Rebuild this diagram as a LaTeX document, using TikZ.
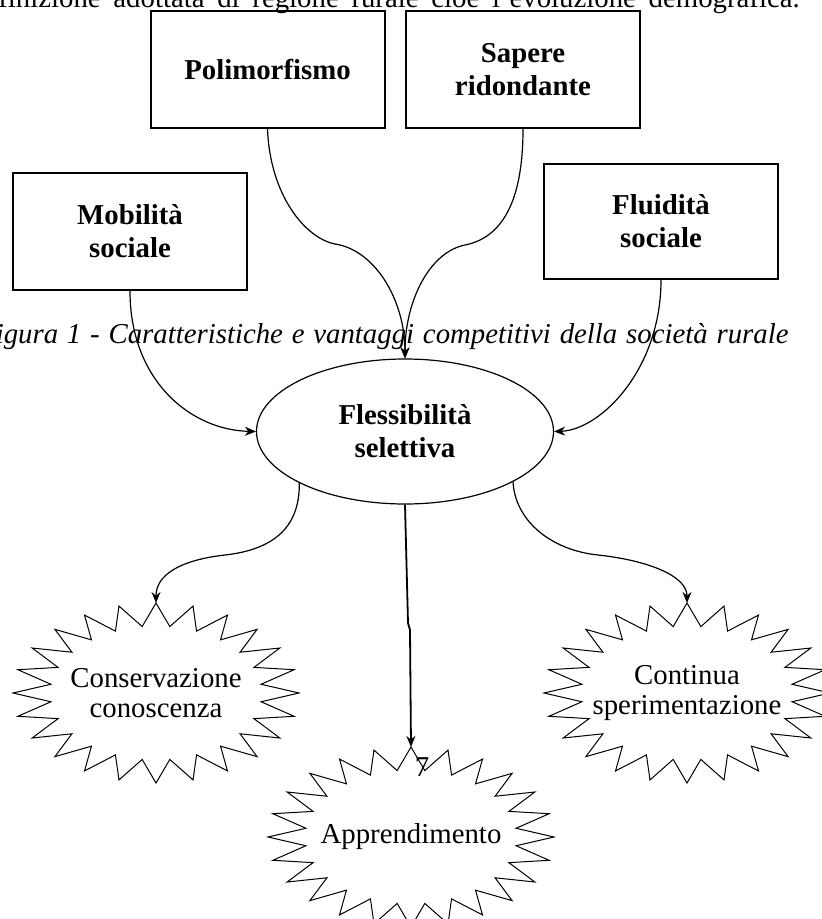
\documentclass[tikz,border=0pt]{standalone}
\usepackage{fontspec}
\setmainfont{Liberation Serif}
\usetikzlibrary{arrows.meta,shapes.geometric}
\begin{document}
\begin{tikzpicture}[x=1pt,y=-1pt,
  box/.style={draw, line width=2pt, rectangle, minimum width=234pt, minimum height=117pt, inner sep=0pt, align=center, font=\fontsize{28.8}{33}\selectfont\bfseries},
  oval/.style={draw, line width=1.2pt, ellipse, minimum width=297pt, minimum height=145pt, inner sep=0pt, align=center, font=\fontsize{28.8}{33}\selectfont\bfseries},
  burst/.style={ellipse, minimum width=286pt, minimum height=180pt, inner sep=0pt, outer sep=0pt, align=center, font=\fontsize{28.8}{30}\selectfont},
  conn/.style={line width=1.2pt, -{Stealth[length=11pt,width=9pt,inset=3.5pt]}},
  starline/.style={line width=1pt, line join=miter},
  txt/.style={font=\fontsize{28.8}{33}\selectfont, inner sep=0pt}
]
\useasboundingbox (0,0) rectangle (822,919);
\fill[white] (0,0) rectangle (822,919);

% header and caption text
\node[txt, anchor=base west] (hdr) at (-29,7) {\spaceskip=12.7pt\relax definizione adottata di regione rurale cioè l’evoluzione demografica.};
\node[txt, anchor=base west, font=\fontsize{28.8}{33}\selectfont\itshape] (cap) at (-22,343) {\spaceskip=8.8pt\relax Figura 1 - Caratteristiche e vantaggi competitivi della società rurale};

% boxes
\node[box] (poli) at (267.5,69.5) {Polimorfismo};
\node[box] (sap) at (523,69.5) {Sapere\\ridondante};
\node[box] (mob) at (130,231.5) {Mobilità\\sociale};
\node[box, minimum height=115pt] (flu) at (661,221.5) {Fluidità\\sociale};

% central ellipse
\node[oval] (flex) at (405,431.5) {Flessibilità\\selettiva};

% starbursts
\node[burst] (cons) at (156,693) {Conservazione\\conoscenza};
\node[burst] (cont) at (687,693) {Continua\\sperimentazione};
\node[burst] (appr) at (411,837) {Apprendimento};
\foreach \n in {cons,cont,appr}
  \draw[starline, shift={(\n.center)}] plot[variable=\k, samples at={0,...,47}]
    ({(143-37*mod(\k,2))*cos(90+7.5*\k)}, {(90-23*mod(\k,2))*sin(90+7.5*\k)}) -- cycle;

% page number artefact
\node[txt] (pg) at (422,767.5) {7};

% helper coordinates
\coordinate (pm) at (335,244);
\coordinate (sm) at (465,245);
\coordinate (lm) at (225,555);
\coordinate (rm) at (598,555);
\coordinate (jog1) at (408,623);
\coordinate (jog2) at (410,630);

% connectors
\draw[conn] (poli.south) .. controls (270,195) and (305,238) .. (pm) .. controls (375,250) and (405,300) .. (flex.north);
\draw[conn] (sap.south) .. controls (523,205) and (500,238) .. (sm) .. controls (430,252) and (405,300) .. (flex.north);
\draw[conn] (mob.south) .. controls (130,380) and (190,430) .. (flex.west);
\draw[conn] (flu.south) .. controls (661,370) and (600,430) .. (flex.east);
\draw[conn] (flex.206) .. controls (300,530) and (270,550) .. (lm) .. controls (180,560) and (156,575) .. (cons.north);
\draw[conn] (flex.335) .. controls (515,520) and (550,550) .. (rm) .. controls (645,560) and (687,575) .. (cont.north);
\draw[conn, line width=1.8pt] (flex.south) -- (jog1) -- (jog2) -- (appr.north);
\end{tikzpicture}
\end{document}
